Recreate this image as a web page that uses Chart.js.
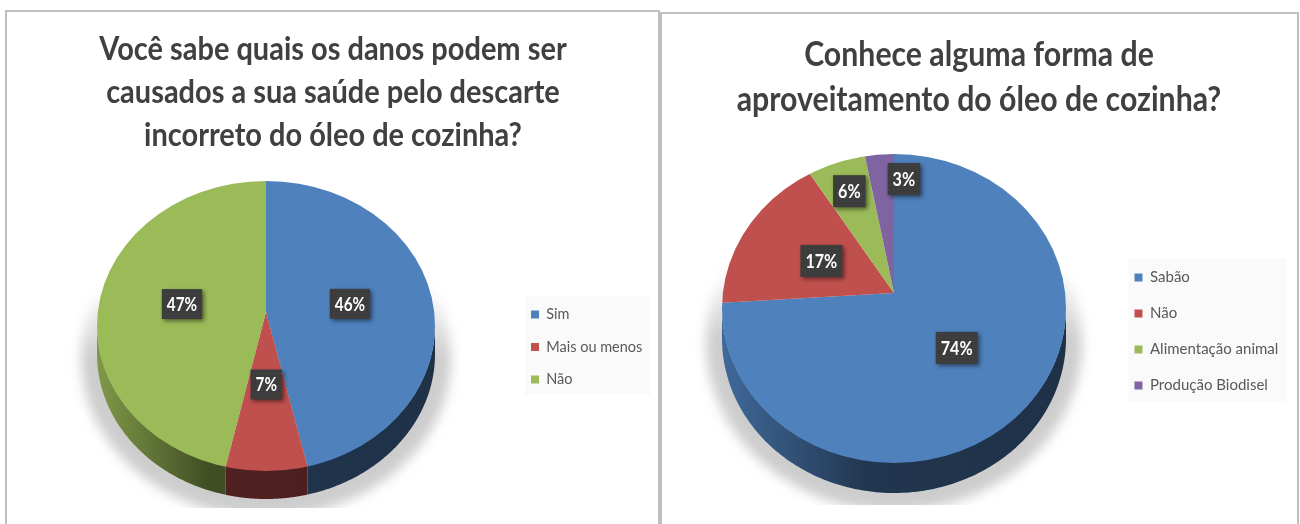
<!DOCTYPE html>
<html>
<head>
<meta charset="utf-8">
<style>
  html, body { margin: 0; padding: 0; background: #fff; overflow: hidden; }
  canvas { position: absolute; top: 0; }
  #danosChart { left: 0; }
  #usoChart { left: 660px; }
  .frame { position: absolute; box-sizing: border-box; bottom: -4px; border: 2px solid #bfbfbf; }
</style>
<script src="https://cdn.jsdelivr.net/npm/chart.js@4"></script>
</head>
<body>
<div class="frame" style="left:5px;top:10px;width:655px;"></div>
<div class="frame" style="left:660px;top:12px;width:639px;"></div>
<canvas id="danosChart" width="666" height="524"></canvas>
<canvas id="usoChart" width="638" height="524"></canvas>
<script>
// DATA
const danosTitle = ['Você sabe quais os danos podem ser', 'causados a sua saúde pelo descarte', 'incorreto do óleo de cozinha?'];
const danosLabels = ['Sim', 'Mais ou menos', 'Não'];
const danosValues = [46.4, 7.1, 46.5];

const usoTitle = ['Conhece alguma forma de', 'aproveitamento do óleo de cozinha?'];
const usoLabels = ['Sabão', 'Não', 'Alimentação animal', 'Produção Biodisel'];
const usoValues = [74, 17, 6, 3];

const sliceColors = ['#4f81bd', '#c0504d', '#9bbb59', '#8064a2'];

const FONT = 'Lato, sans-serif';
const LABEL_SQUASH = 0.85; // Lato is wider than the font in the picture

function shade(hex, f) {
    const n = parseInt(hex.slice(1), 16);
    return `rgb(${(n >> 16) * f | 0}, ${((n >> 8) & 255) * f | 0}, ${(n & 255) * f | 0})`;
}

// dotted fill of the value labels
function labelPattern(ctx) {
    const tile = document.createElement('canvas');
    tile.width = tile.height = 4;
    const t = tile.getContext('2d');
    t.fillStyle = '#3c3c3c';
    t.fillRect(0, 0, 4, 4);
    t.fillStyle = '#4b4b4b';
    t.fillRect(1, 1, 1, 1);
    return ctx.createPattern(tile, 'repeat');
}

// Fake 3D pie: the library's arcs get squashed around the apex and clipped to the top ellipse
function pie3d(view) {
    let legendPlaced = false;

    // ray from the apex to the rim of the ellipse
    function rimPoint(angle) {
        const e = (view.cy - view.apexY) / view.ry;
        const c = Math.cos(angle), s = Math.sin(angle);
        const b = e * s;
        const t = b + Math.sqrt(b * b - (e * e - 1));
        return { x: view.apexX + view.rx * t * c, y: view.apexY + view.ry * t * s };
    }

    function drawShadow(ctx) {
        ctx.save();
        ctx.beginPath();
        ctx.rect(0, 0, ctx.canvas.width, view.shadowBottom);
        ctx.clip();
        const g = ctx.createLinearGradient(0, view.cy - 40, 0, view.cy + 30);
        g.addColorStop(0, 'rgba(205,205,205,0)');
        g.addColorStop(1, 'rgba(205,205,205,1)');
        ctx.filter = 'blur(6px)';
        ctx.fillStyle = g;
        ctx.beginPath();
        ctx.ellipse(view.apexX, view.cy + view.depth + 4, view.rx + 16, view.ry + 14, 0, 0, Math.PI * 2);
        ctx.fill();
        ctx.restore();
    }

    function drawWalls(ctx, arcs) {
        arcs.forEach((arc, i) => {
            const pts = [];
            const steps = 240;
            for (let k = 0; k <= steps; k++) {
                const p = rimPoint(arc.startAngle + (arc.endAngle - arc.startAngle) * k / steps);
                if (p.y >= view.cy) pts.push(p);
            }
            if (pts.length < 2) return;
            const color = sliceColors[i];
            const left = view.apexX - view.rx;
            const g = ctx.createLinearGradient(left, 0, left + view.rx * 2, 0);
            g.addColorStop(0, shade(color, 0.82));
            g.addColorStop(view.fade, shade(color, 0.42));
            g.addColorStop(1, shade(color, 0.38));
            ctx.fillStyle = g;
            ctx.beginPath();
            pts.forEach((p, k) => k ? ctx.lineTo(p.x, p.y - 1) : ctx.moveTo(p.x, p.y - 1));
            pts.reverse().forEach(p => ctx.lineTo(p.x, p.y + view.depth));
            ctx.closePath();
            ctx.fill();
        });
    }

    return {
        id: 'pie3d',
        afterLayout(chart) {
            // title font is too wide, squeeze it around its centre
            const block = chart.titleBlock;
            const drawTitle = block.draw;
            block.draw = function () {
                const ctx = chart.ctx;
                const mid = chart.width / 2;
                ctx.save();
                ctx.translate(mid, 0);
                ctx.scale(view.titleSquash, 1);
                ctx.translate(-mid, 0);
                drawTitle.apply(block, arguments);
                ctx.restore();
                block.draw = drawTitle;
            };
        },
        beforeDraw(chart) {
            const legend = chart.legend;
            const boxes = legend.legendHitBoxes;
            if (!legendPlaced) {
                // put the legend where the picture has it
                const dx = view.legendX - boxes[0].left;
                const dy = view.legendY - boxes[0].top;
                legend.left += dx; legend.right += dx;
                legend.top += dy; legend.bottom += dy;
                boxes.forEach(b => { b.left += dx; b.top += dy; });
                legendPlaced = true;
            }
            // pale box behind the legend
            const last = boxes[boxes.length - 1];
            let right = 0;
            boxes.forEach(b => { right = Math.max(right, b.left + b.width); });
            const top = boxes[0].top - 11.5;
            chart.ctx.fillStyle = '#fafafa';
            chart.ctx.fillRect(boxes[0].left - 6, top, right - boxes[0].left + 14, last.top + last.height + 8 - top);
        },
        beforeDatasetsDraw(chart) {
            const ctx = chart.ctx;
            const arcs = chart.getDatasetMeta(0).data;
            drawShadow(ctx);
            drawWalls(ctx, arcs);
            const k = 1.2; // arcs a bit larger than the rim, the clip cuts them off
            ctx.save();
            ctx.beginPath();
            ctx.ellipse(view.apexX, view.cy, view.rx, view.ry, 0, 0, Math.PI * 2);
            ctx.clip();
            ctx.translate(view.apexX, view.apexY);
            ctx.scale(view.rx * k / arcs[0].outerRadius, view.ry * k / arcs[0].outerRadius);
            ctx.translate(-arcs[0].x, -arcs[0].y);
        },
        afterDatasetsDraw(chart) {
            const ctx = chart.ctx;
            ctx.restore();
            const values = chart.data.datasets[0].data;
            const total = values.reduce((sum, v) => sum + v, 0);
            const fill = labelPattern(ctx);
            chart.getDatasetMeta(0).data.forEach((arc, i) => {
                const mid = (arc.startAngle + arc.endAngle) / 2;
                const nudge = view.labelNudge[i] || [0, 0];
                const x = view.apexX + Math.cos(mid) * view.rx * 0.5 + nudge[0];
                const y = view.apexY + Math.sin(mid) * view.ry * 0.5 + nudge[1];
                const text = Math.round(values[i] / total * 100) + '%';
                ctx.font = 'bold ' + view.labelSize + 'px ' + FONT;
                const w = ctx.measureText(text).width * LABEL_SQUASH + 10;
                const h = view.labelHeight;
                ctx.save();
                ctx.shadowColor = 'rgba(0,0,0,0.5)';
                ctx.shadowBlur = 4;
                ctx.shadowOffsetX = 2;
                ctx.shadowOffsetY = 2;
                ctx.fillStyle = fill;
                ctx.fillRect(x - w / 2, y - h / 2, w, h);
                ctx.restore();
                ctx.save();
                ctx.translate(x, y + 1);
                ctx.scale(LABEL_SQUASH, 1);
                ctx.fillStyle = '#fff';
                ctx.textAlign = 'center';
                ctx.textBaseline = 'middle';
                ctx.fillText(text, 0, 0);
                ctx.restore();
            });
        }
    };
}

// Create the two charts
function makePie(id, title, labels, values, opts) {
    return new Chart(document.getElementById(id), {
        type: 'pie',
        data: {
            labels: labels,
            datasets: [{
                data: values,
                backgroundColor: sliceColors.slice(0, values.length),
                borderWidth: 0,
                clip: false
            }]
        },
        options: {
            responsive: false,
            animation: false,
            plugins: {
                tooltip: { enabled: false },
                title: {
                    display: true,
                    text: title,
                    color: '#404040',
                    font: { family: FONT, size: opts.titleSize, weight: 'bold', lineHeight: opts.titleLine },
                    padding: { top: opts.titleTop, bottom: opts.titleBottom }
                },
                legend: {
                    position: 'right',
                    labels: {
                        boxWidth: 8,
                        boxHeight: 8,
                        padding: opts.legendGap,
                        color: '#595959',
                        font: { family: FONT, size: opts.legendSize }
                    }
                }
            }
        },
        plugins: [pie3d(opts.view)]
    });
}

makePie('danosChart', danosTitle, danosLabels, danosValues, {
    titleSize: 33, titleLine: 43 / 33, titleTop: 28, titleBottom: 9,
    legendSize: 14.5, legendGap: 18,
    view: {
        apexX: 266, apexY: 312, cy: 326, rx: 169, ry: 145, depth: 28, fade: 0.33, shadowBottom: 508,
        titleSquash: 0.878, legendX: 531, legendY: 307.3,
        labelSize: 18, labelHeight: 30, labelNudge: []
    }
});

makePie('usoChart', usoTitle, usoLabels, usoValues, {
    titleSize: 34, titleLine: 45 / 34, titleTop: 33, titleBottom: 13,
    legendSize: 15, legendGap: 21,
    view: {
        apexX: 234, apexY: 293, cy: 308.5, rx: 172, ry: 154.5, depth: 30, fade: 0.43, shadowBottom: 505,
        titleSquash: 0.89, legendX: 474.5, legendY: 270,
        labelSize: 19, labelHeight: 32, labelNudge: [[0, 2], [4, 3], [-13, -30], [18, -37]]
    }
});
</script>
</body>
</html>
